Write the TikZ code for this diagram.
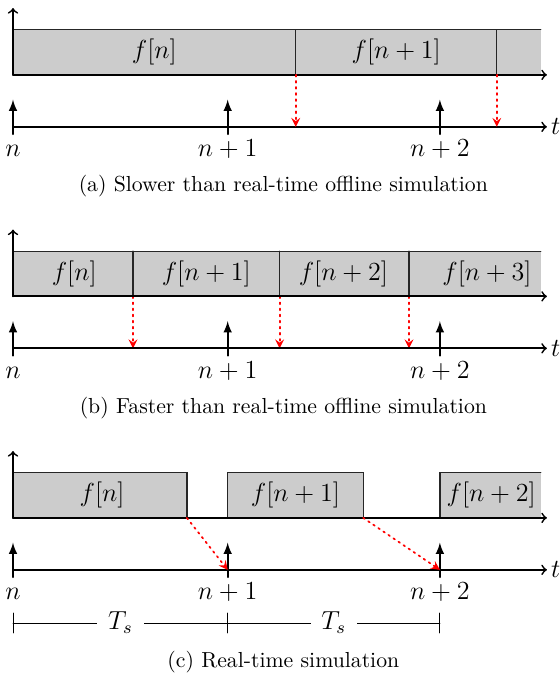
\documentclass[tikz,border=0pt]{standalone}

\tikzset{
  axis/.style={thick,->},
  edge/.style={semithick,draw=black!85},
  sample/.style={thick,-latex},
  late/.style={red,dotted,thick,-stealth},
  lbl/.style={font=\large},
}

\begin{document}
\begin{tikzpicture}[>=to,line cap=round]
    \useasboundingbox (-0.21,2.05) rectangle (8.84,-8.86);
    % (a) slower than real-time
    \fill[black!20] (0,0.84) rectangle (8.53,1.57);
    \draw[edge] (0,1.57) -- (8.53,1.57) (4.57,0.84) -- (4.57,1.57) (7.82,0.84) -- (7.82,1.57);
    \draw[axis] (0,0.84) -- (0,1.92);
    \draw[axis] (0,0.84) -- (8.63,0.84);
    \node[lbl] (fa0) at (2.285,1.205) {$f[n]$};
    \node[lbl] (fa1) at (6.195,1.205) {$f[n+1]$};
    \draw[axis] (0,0) -- (8.63,0) node[right,lbl,inner xsep=1.5pt] (ta) {$t$};
    \foreach \x/\l [count=\i] in {0/n,3.47/n+1,6.9/n+2}{
        \draw[sample] (\x,-0.12) -- (\x,0.44);
        \node[lbl,anchor=base] (ka\i) at (\x,-0.48) {$\l$};
    }
    \foreach \x in {4.57,7.82}{
        \draw[late] (\x,0.84) -- (\x,0);
    }
    \node (capa) at (4.37,-0.95) {(a) Slower than real-time offline simulation};

    % (b) faster than real-time
    \begin{scope}[yshift=-3.58cm]
        \fill[black!20] (0,0.84) rectangle (8.53,1.57);
        \draw[edge] (0,1.57) -- (8.53,1.57);
        \foreach \x in {1.94,4.31,6.40}{
            \draw[edge] (\x,0.84) -- (\x,1.57);
            \draw[late] (\x,0.84) -- (\x,0);
        }
        \draw[axis] (0,0.84) -- (0,1.92);
        \draw[axis] (0,0.84) -- (8.63,0.84);
        \node[lbl] (fb0) at (0.99,1.205) {$f[n]$};
        \node[lbl] (fb1) at (3.125,1.205) {$f[n+1]$};
        \node[lbl] (fb2) at (5.34,1.205) {$f[n+2]$};
        \node[lbl] (fb3) at (7.66,1.205) {$f[n+3]$};
        \draw[axis] (0,0) -- (8.63,0) node[right,lbl,inner xsep=1.5pt] (tb) {$t$};
        \foreach \x/\l [count=\i] in {0/n,3.47/n+1,6.9/n+2}{
            \draw[sample] (\x,-0.12) -- (\x,0.44);
            \node[lbl,anchor=base] (kb\i) at (\x,-0.48) {$\l$};
        }
        \node (capb) at (4.37,-0.97) {(b) Faster than real-time offline simulation};
    \end{scope}

    % (c) real-time
    \begin{scope}[yshift=-7.16cm]
        \foreach \a/\b in {0/2.81,3.47/5.66}{
            \fill[black!20] (\a,0.84) rectangle (\b,1.57);
            \draw[edge] (\a,0.84) -- (\a,1.57) -- (\b,1.57) -- (\b,0.84);
        }
        \fill[black!20] (6.9,0.84) rectangle (8.53,1.57);
        \draw[edge] (6.9,0.84) -- (6.9,1.57) -- (8.53,1.57);
        \draw[axis] (0,0.84) -- (0,1.92);
        \draw[axis] (0,0.84) -- (8.63,0.84);
        \node[lbl] (fc0) at (1.44,1.205) {$f[n]$};
        \node[lbl] (fc1) at (4.565,1.205) {$f[n+1]$};
        \node[lbl] (fc2) at (7.73,1.205) {$f[n+2]$};
        \draw[axis] (0,0) -- (8.63,0) node[right,lbl,inner xsep=1.5pt] (tc) {$t$};
        \foreach \x/\l [count=\i] in {0/n,3.47/n+1,6.9/n+2}{
            \draw[sample] (\x,-0.12) -- (\x,0.44);
            \node[lbl,anchor=base] (kc\i) at (\x,-0.48) {$\l$};
            \draw (\x,-0.70) -- (\x,-1.02);
        }
        \draw[late] (2.81,0.84) -- (3.47,0);
        \draw[late] (5.66,0.84) -- (6.9,0);
        \draw (0,-0.86) -- node[lbl,fill=white,inner xsep=5pt] (ts1) {$T_s$} (3.47,-0.86)
              -- node[lbl,fill=white,inner xsep=5pt] (ts2) {$T_s$} (6.9,-0.86);
        \node (capc) at (4.37,-1.49) {(c) Real-time simulation};
    \end{scope}
\end{tikzpicture}
\end{document}
